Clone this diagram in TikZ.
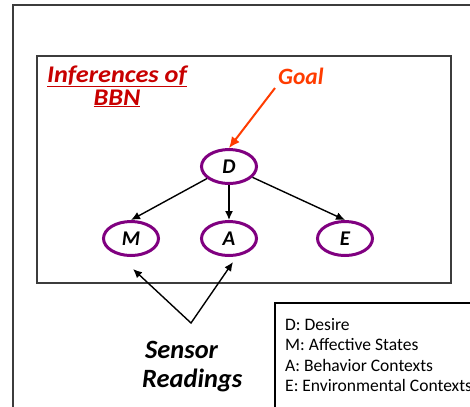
\documentclass[tikz,border=0pt]{standalone}
\usepackage{fontspec}
\setmainfont{Carlito}
\newfontfamily\widefont[FakeStretch=1.1]{Carlito}
\usetikzlibrary{shapes.geometric,arrows.meta}
\definecolor{nodepurple}{RGB}{128,0,128}
\definecolor{goalred}{RGB}{255,60,0}
\definecolor{titlered}{RGB}{200,0,0}
\definecolor{framegray}{RGB}{60,60,60}
\tikzset{
  bbn/.style={ellipse, draw=nodepurple, line width=3bp, minimum width=55bp, minimum height=34bp, inner sep=0pt, font=\fontsize{21}{22}\selectfont\bfseries\itshape},
  conn/.style={line width=1.4bp, -{Latex[length=9bp,width=8bp]}},
  bothconn/.style={line width=1.4bp, line join=miter, {Latex[length=9bp,width=8bp]}-{Latex[length=9bp,width=8bp]}},
  goalconn/.style={goalred, line width=2bp, -{Latex[length=11bp,width=10bp]}},
  legend/.style={anchor=base west, inner sep=0pt, font=\fontsize{17.6}{20}\selectfont},
  title/.style={anchor=base, inner sep=0pt, text=titlered, font=\widefont\fontsize{24}{26}\selectfont\bfseries\itshape},
  sensor/.style={anchor=base west, inner sep=0pt, font=\fontsize{26.5}{28}\selectfont\bfseries\itshape},
  frame/.style={draw=framegray, line width=2bp},
  box/.style={draw=framegray, line width=1.5bp},
}
\begin{document}
\begin{tikzpicture}[x=1bp,y=-1bp]
\useasboundingbox (0,0) rectangle (470,406);
\fill[white] (0,0) rectangle (470,406);
% outer frame
\draw[frame] (13,5) rectangle (490,430);
% inner box
\draw[box] (37,56) rectangle (451,283);
% title
\node[title] (t1) at (117,82) {\underline{Inferences of}};
\node[title] (t2) at (117,105) {\underline{BBN}};
% goal
\node[anchor=base west, inner sep=0pt, text=goalred, font=\fontsize{23.5}{25}\selectfont\bfseries\itshape] (goal) at (278,84) {Goal};
% nodes
\node[bbn] (D) at (229,166.5) {D};
\node[bbn] (M) at (131,238.5) {M};
\node[bbn] (A) at (229,238.5) {A};
\node[bbn] (E) at (345,238.5) {E};
\coordinate (gs) at (275,88);
\draw[goalconn] (gs) -- (D.north);
\draw[conn] (D) -- (M.north);
\draw[conn] (D) -- (A);
\draw[conn] (D) -- (E.north);
% sensor readings
\coordinate (sv) at (191,323);
\coordinate (sm) at (133,269);
\coordinate (sa) at (233,262);
\draw[bothconn] (sm) -- (sv) -- (sa);
\node[sensor] (s1) at (145,358) {Sensor};
\node[sensor] (s2) at (142,387) {Readings};
% legend
\draw[line width=1.4bp] (275,303) rectangle (490,430);
\node[legend] (l1) at (285,330) {D: Desire};
\node[legend] (l2) at (285,350.5) {M: Affective States};
\node[legend] (l3) at (285,371) {A: Behavior Contexts};
\node[legend] (l4) at (285,391.5) {E: Environmental Contexts};
\end{tikzpicture}
\end{document}
